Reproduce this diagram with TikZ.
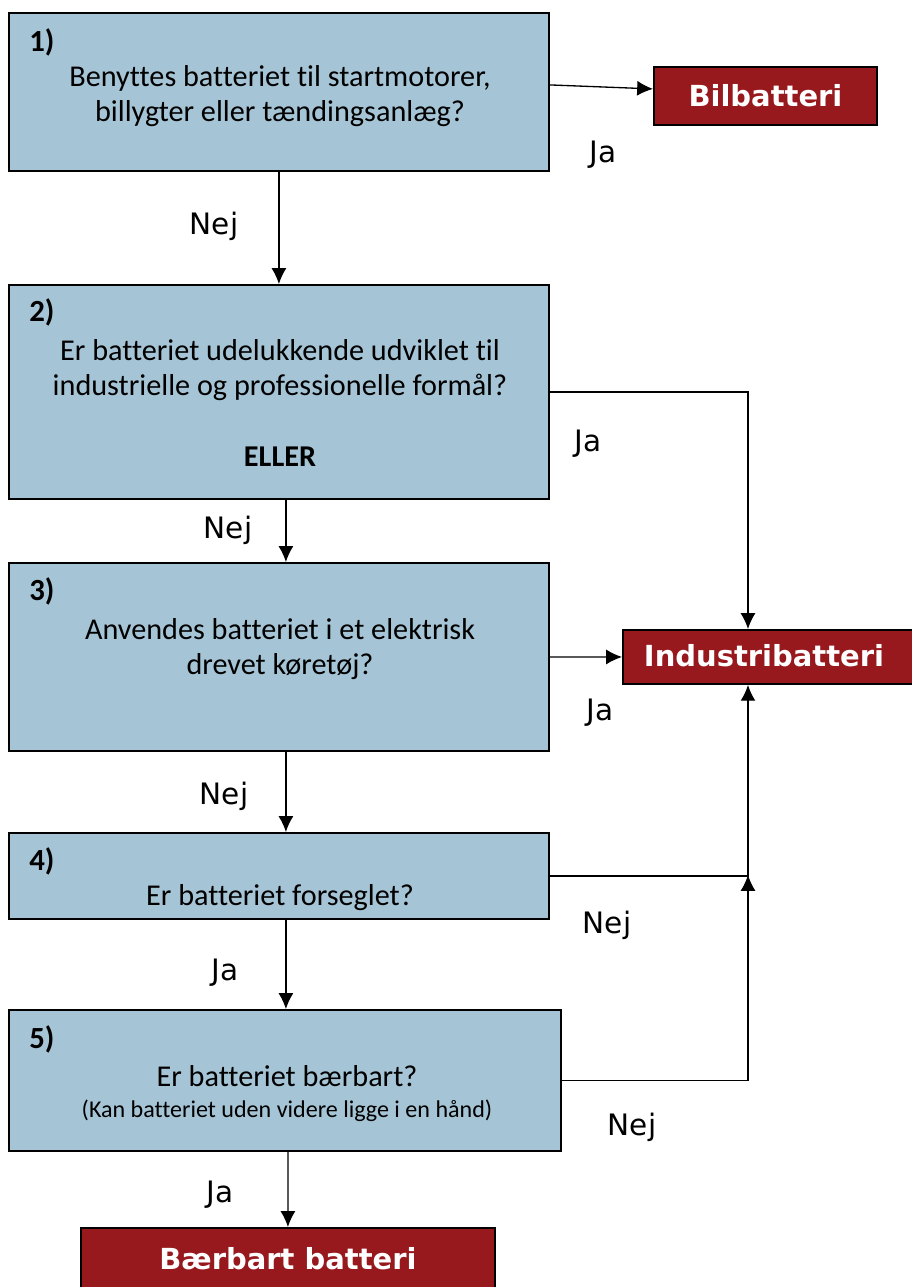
\documentclass[tikz,border=0pt]{standalone}
\usepackage{fontspec}
\setmainfont{Carlito}[Ligatures=NoCommon]
\newfontfamily\tagfont{DejaVu Sans}
\usetikzlibrary{arrows.meta}
\definecolor{qblue}{HTML}{A5C4D5}
\definecolor{resred}{HTML}{97191E}
\tikzset{
  >={Latex[length=9pt,width=8.5pt]},
  question/.style = {draw=black, line width=1.1pt, fill=qblue,
                     inner sep=0, anchor=north west},
  result/.style = {draw=black, line width=1.1pt, fill=resred, inner sep=0,
                   anchor=north west, text=white,
                   font=\tagfont\bfseries\fontsize{16.5}{19}\selectfont},
  qnum/.style = {anchor=west, inner sep=0,
                 font=\bfseries\fontsize{17.5}{20}\selectfont},
  qtext/.style = {align=center, inner sep=0,
                  font=\fontsize{17.2}{20}\selectfont},
  qsmall/.style = {align=center, inner sep=0,
                   font=\fontsize{13.7}{16}\selectfont},
  answer/.style = {inner sep=0, font=\tagfont\fontsize{16.8}{19}\selectfont},
  flow/.style = {->, line width=0.75pt},
}
\begin{document}
\begin{tikzpicture}[x=0.02cm,y=-0.02cm]
\useasboundingbox (0,0) rectangle (912,1287);

% question boxes
\node[question, minimum width=10.8cm, minimum height=3.16cm] (q1) at (8,12) {};
\node[question, minimum width=10.8cm, minimum height=4.28cm] (q2) at (8,284) {};
\node[question, minimum width=10.8cm, minimum height=3.76cm] (q3) at (8,562) {};
\node[question, minimum width=10.8cm, minimum height=1.72cm] (q4) at (8,832) {};
\node[question, minimum width=11.04cm, minimum height=2.82cm] (q5) at (8,1009) {};

% results
\node[result, minimum width=4.46cm, minimum height=1.16cm] (bil) at (653,66) {Bilbatteri};
\node[result, minimum width=6cm, minimum height=1.08cm] (ind) at (622,629) {};
\node[text=white, font=\tagfont\bfseries\fontsize{16.5}{19}\selectfont] (indtxt) at (764,656) {Industribatteri};
\node[result, minimum width=8.28cm, minimum height=1.24cm] (baer) at (80,1227) {Bærbart batteri};

% texts in the boxes
\node[qnum] (n1) at (29,42) {1)};
\node[qtext] (t1) at (280,96) {Benyttes batteriet til startmotorer,\\ billygter eller tændingsanlæg?};
\node[qnum] (n2) at (29,312) {2)};
\node[qtext] (t2) at (280,370) {Er batteriet udelukkende udviklet til\\ industrielle og professionelle formål?};
\node[qtext, font=\bfseries\fontsize{17.2}{20}\selectfont] (e2) at (280,457) {ELLER};
\node[qnum] (n3) at (29,591) {3)};
\node[qtext] (t3) at (280,649) {Anvendes batteriet i et elektrisk\\ drevet køretøj?};
\node[qnum] (n4) at (29,861) {4)};
\node[qtext] (t4) at (280,898) {Er batteriet forseglet?};
\node[qnum] (n5) at (29,1039) {5)};
\node[qtext] (t5) at (287,1076) {Er batteriet bærbart?};
\node[qsmall] (t5b) at (287,1111) {(Kan batteriet uden videre ligge i en hånd)};

% connectors
\coordinate (join) at (748,875);
\draw[flow] ([yshift=4pt]q1.east) -- ([yshift=4pt]bil.west);
\draw[flow] (q1) -- (q2);
\draw[flow] (q2.east) -| ([xshift=2.52cm]ind.north west);
\draw[flow] ([xshift=0.14cm]q2.south) -- ([xshift=0.14cm]q3.north);
\draw[flow] (q3.east) -- (ind.west);
\draw[flow] ([xshift=0.14cm]q3.south) -- ([xshift=0.14cm]q4.north);
\draw[flow] (q4.east) -| ([xshift=2.52cm]ind.south west);
\draw[flow] ([xshift=0.14cm]q4.south) -- ([xshift=0.02cm]q5.north);
\draw[flow] (q5.east) -| (join);
\draw[flow] ([xshift=0.06cm]q5.south) -- (baer.north);

% answers
\node[answer] (a1) at (603,155) {Ja};
\node[answer] (a2) at (214,226) {Nej};
\node[answer] (a3) at (588,444) {Ja};
\node[answer] (a4) at (228,530) {Nej};
\node[answer] (a5) at (600,713) {Ja};
\node[answer] (a6) at (224,796) {Nej};
\node[answer] (a7) at (607,925) {Nej};
\node[answer] (a8) at (225,973) {Ja};
\node[answer] (a9) at (632,1127) {Nej};
\node[answer] (a10) at (220,1195) {Ja};
\end{tikzpicture}
\end{document}
